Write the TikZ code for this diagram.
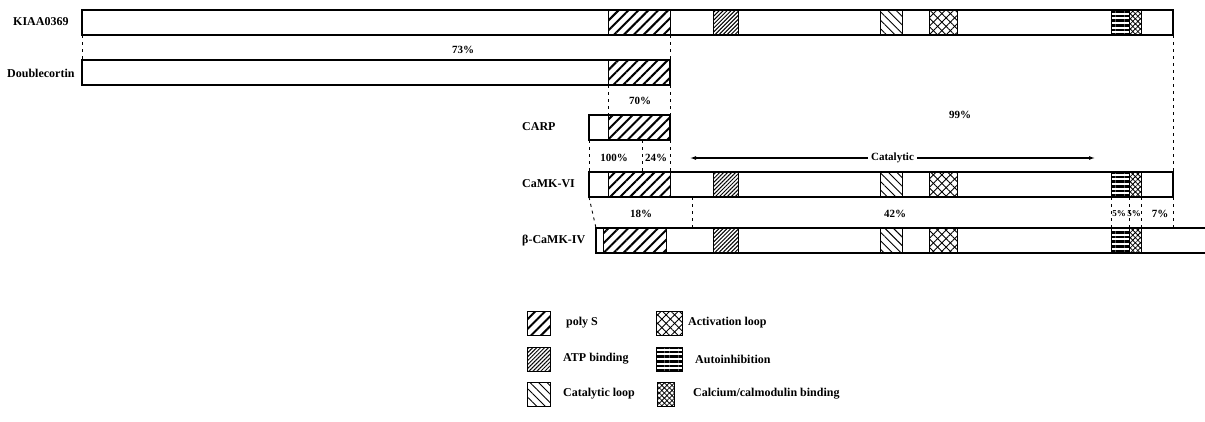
\documentclass[tikz,border=0pt]{standalone}
\usepackage{fontspec}
\setmainfont{Liberation Serif}
\usetikzlibrary{positioning,arrows.meta,patterns.meta}
\tikzset{
  protbar/.style={draw, line width=1.2pt, fill=white, inner sep=0pt, outer sep=0pt, anchor=north west, minimum height=25pt},
  dombox/.style={draw, line width=1pt, inner sep=0pt, outer sep=0pt, anchor=north west, minimum height=25pt},
  polys/.style={dombox, pattern={Lines[angle=45, distance=7pt, line width=2pt]}},
  atpbind/.style={dombox, pattern={Lines[angle=45, distance=2.8pt, line width=1pt]}},
  catloop/.style={dombox, pattern={Lines[angle=-45, distance=6pt, line width=0.9pt]}},
  actloop/.style={dombox, preaction={pattern={Lines[angle=45, distance=6pt, line width=0.9pt]}}, pattern={Lines[angle=-45, distance=6pt, line width=0.9pt]}},
  autoinh/.style={dombox, pattern={Lines[angle=0, distance=4.6pt, line width=2.6pt]}},
  cambind/.style={dombox, preaction={pattern={Lines[angle=45, distance=3.6pt, line width=0.8pt]}}, pattern={Lines[angle=-45, distance=3.6pt, line width=0.8pt]}},
  simline/.style={line width=0.9pt, dash pattern=on 3pt off 4pt},
  protname/.style={anchor=west, inner sep=0pt, font=\bfseries\fontsize{12}{14}\selectfont},
  pctlabel/.style={inner sep=1pt, font=\bfseries\fontsize{11}{13}\selectfont},
  legtext/.style={inner sep=0pt, font=\bfseries\fontsize{12}{14}\selectfont}
}
\begin{document}
\begin{tikzpicture}[x=1pt, y=-1pt, >={Latex[length=6pt, width=4pt]}]
  \useasboundingbox (0,0) rectangle (1205,421);
  % protein bars
  \node[protbar, minimum width=1091pt] (kiaa) at (82,10) {};
  \node[protbar, minimum width=588pt] (dcx) at (82,60) {};
  \node[protbar, minimum width=81pt] (carp) at (589,115) {};
  \node[protbar, minimum width=584pt] (camk6) at (589,172) {};
  \node[protbar, draw=none, minimum width=609pt] (camk4) at (596,228) {};
  \draw[line width=1.2pt] (camk4.north east) -- (camk4.north west) -- (camk4.south west) -- (camk4.south east);
  % names
  \node[protname] (kiaa-l) at (13,22) {KIAA0369};
  \node[protname] (dcx-l) at (7,73) {Doublecortin};
  \node[protname] (carp-l) at (522,127) {CARP};
  \node[protname] (camk6-l) at (522,184) {CaMK-VI};
  \node[protname] (camk4-l) at (522,241) {β-CaMK-IV};
  % KIAA0369 domains
  \node[polys, minimum width=62pt] (k-ps) at (608,10) {};
  \node[atpbind, minimum width=25pt] (k-atp) at (713,10) {};
  \node[catloop, minimum width=22pt] (k-cat) at (880,10) {};
  \node[actloop, minimum width=28pt] (k-act) at (929,10) {};
  \node[autoinh, minimum width=18pt] (k-ai) at (1111,10) {};
  \node[cambind, minimum width=12pt] (k-cam) at (1129,10) {};
  % Doublecortin, CARP
  \node[polys, minimum width=62pt] (d-ps) at (608,60) {};
  \node[polys, minimum width=62pt] (c-ps) at (608,115) {};
  % CaMK-VI domains
  \node[polys, minimum width=62pt] (v-ps) at (608,172) {};
  \node[atpbind, minimum width=25pt] (v-atp) at (713,172) {};
  \node[catloop, minimum width=22pt] (v-cat) at (880,172) {};
  \node[actloop, minimum width=28pt] (v-act) at (929,172) {};
  \node[autoinh, minimum width=18pt] (v-ai) at (1111,172) {};
  \node[cambind, minimum width=12pt] (v-cam) at (1129,172) {};
  % beta-CaMK-IV domains
  \node[polys, minimum width=63pt] (b-ps) at (603,228) {};
  \node[atpbind, minimum width=25pt] (b-atp) at (713,228) {};
  \node[catloop, minimum width=22pt] (b-cat) at (880,228) {};
  \node[actloop, minimum width=28pt] (b-act) at (929,228) {};
  \node[autoinh, minimum width=18pt] (b-ai) at (1111,228) {};
  \node[cambind, minimum width=12pt] (b-cam) at (1129,228) {};
  % similarity lines
  \coordinate (carp-cut) at (642,140);
  \coordinate (v-cut) at (642,172);
  \coordinate (v-cat-cut) at (692,197);
  \coordinate (b-cat-cut) at (692,228);
  \coordinate (b-end) at (1173,228);
  \draw[simline] (kiaa.south west) -- (dcx.north west);
  \draw[simline] (k-ps.south east) -- (dcx.north east);
  \draw[simline] (kiaa.south east) -- (camk6.north east);
  \draw[simline] (d-ps.south west) -- (c-ps.north west);
  \draw[simline] (dcx.south east) -- (carp.north east);
  \draw[simline] (carp.south west) -- (camk6.north west);
  \draw[simline] (carp-cut) -- (v-cut);
  \draw[simline] (carp.south east) -- (v-ps.north east);
  \draw[simline] (camk6.south west) -- (camk4.north west);
  \draw[simline] (v-cat-cut) -- (b-cat-cut);
  \draw[simline] (v-ai.south west) -- (b-ai.north west);
  \draw[simline] (v-cam.south west) -- (b-cam.north west);
  \draw[simline] (v-cam.south east) -- (b-cam.north east);
  \draw[simline] (camk6.south east) -- (b-end);
  % percentages
  \node[pctlabel] (p73) at (463,50) {73\%};
  \node[pctlabel] (p70) at (640,101) {70\%};
  \node[pctlabel] (p99) at (960,115) {99\%};
  \node[pctlabel] (p100) at (614,158) {100\%};
  \node[pctlabel] (p24) at (656,158) {24\%};
  \node[pctlabel] (p18) at (641,214) {18\%};
  \node[pctlabel] (p42) at (895,214) {42\%};
  \node[pctlabel, inner sep=0pt, font=\bfseries\fontsize{9}{10}\selectfont] (p5a) at (1119,214) {5\%};
  \node[pctlabel, inner sep=0pt, font=\bfseries\fontsize{9}{10}\selectfont] (p5b) at (1134,214) {5\%};
  \node[pctlabel] (p7) at (1160,214) {7\%};
  % catalytic region
  \coordinate (cat-l) at (690,158);
  \coordinate (cat-r) at (1095,158);
  \draw[<->, line width=1.1pt] (cat-l) -- node[pctlabel, fill=white, inner sep=3pt] (cat-txt) {Catalytic} (cat-r);
  % legend
  \node[polys, minimum width=23pt, minimum height=24pt] (lg-ps) at (527,311) {};
  \node[atpbind, minimum width=23pt, minimum height=24pt] (lg-atp) at (527,347) {};
  \node[catloop, minimum width=23pt, minimum height=24pt] (lg-cat) at (527,382) {};
  \node[actloop, minimum width=26pt, minimum height=24pt] (lg-act) at (656,311) {};
  \node[autoinh, minimum width=26pt, minimum height=24pt] (lg-ai) at (656,347) {};
  \node[cambind, minimum width=17pt, minimum height=24pt] (lg-cam) at (657,382) {};
  \node[legtext, right=16pt of lg-ps] (lt-ps) {poly S};
  \node[legtext, right=13pt of lg-atp] (lt-atp) {ATP binding};
  \node[legtext, right=13pt of lg-cat] (lt-cat) {Catalytic loop};
  \node[legtext, right=6pt of lg-act] (lt-act) {Activation loop};
  \node[legtext, right=13pt of lg-ai] (lt-ai) {Autoinhibition};
  \node[legtext, right=19pt of lg-cam] (lt-cam) {Calcium/calmodulin binding};
\end{tikzpicture}
\end{document}
